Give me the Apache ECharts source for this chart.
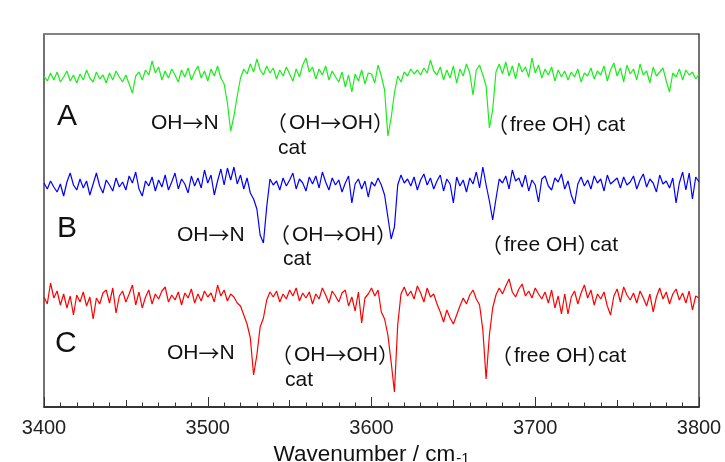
<!DOCTYPE html>
<html><head><meta charset="utf-8">
<script src="https://cdn.jsdelivr.net/npm/echarts@6/dist/echarts.min.js"></script>
<style>html,body{margin:0;padding:0;background:#fff}#c{width:725px;height:462px}</style>
</head><body><div id="c"></div><script>
// x grid of the spectra (cm-1)
const WN_START = 3400, WN_STEP = 2;
const tickLabels = [3400, 3500, 3600, 3700, 3800];
const seriesNames = ['A', 'B', 'C'];
// vertical offsets of the stacked spectra (arbitrary intensity units)
const offsetA = 329, offsetB = 220, offsetC = 107;

// Spectrum A (green), relative intensity, 3400..3800 step 2
const spectrumA = [
  2, -3, 5, -2, 6, -4, 1, 7, -3, 3,
  -5, 4, -2, 8, 0, -4, 6, -1, 3, -5,
  5, -2, 7, 1, -4, 3, -6, -15, 2, 6,
  -2, 8, 3, 17, 5, 11, -2, 7, 0, 9,
  3, -4, 8, 1, 10, -2, 6, 12, 0, 7,
  -3, 9, 2, 12, 0, -6, -25, -53, -38, -18,
  0, 9, 4, 14, 6, 19, 8, 3, 12, 5,
  10, -1, 8, 2, 11, 4, -3, 9, 1, 13,
  20, 6, 11, -1, 9, 3, 12, -2, 7, 1,
  -4, 6, -9, 3, -14, 4, -3, 8, -6, 5,
  4, -5, 13, 2, -12, -58, -40, -15, 2, -4,
  6, 2, 9, 4, 8, 3, 10, 5, 18, 7,
  3, 11, -2, 8, 0, 12, -5, 9, 2, 14,
  5, -17, 8, 13, 3, -8, -50, -32, 6, 14,
  4, 16, 2, 12, -1, 15, 6, 11, 1, 20,
  5, 13, 0, 9, 3, 11, -3, 8, 1, 7,
  -2, 6, 1, 9, -4, 5, 2, 10, -1, 7,
  3, 12, -3, 8, 15, 2, 10, -4, 13, 4,
  9, -2, 14, 3, 7, -5, 11, 2, 6, 10,
  -3, -14, 5, 1, 9, -2, 8, 3, 6, -1,
  4
];
// Spectrum B (blue)
const spectrumB = [
  4, -2, 6, 0, -5, 3, -9, 5, 14, 2,
  -3, 8, -1, 6, -8, 3, 14, 1, -6, 7,
  2, -4, 9, 0, 5, -3, 11, 4, 15, -2,
  -9, 6, 1, 10, -4, 7, 0, 12, -3, 5,
  14, -2, 8, 3, -6, 11, 1, 9, -1, 17,
  4, 12, -8, 6, 18, 2, 19, 7, 20, 3,
  12, -2, 9, -6, -12, -22, -48, -56, -20, 8,
  2, 6, -3, 9, 1, 7, 14, -2, 8, 4,
  -4, 10, 3, 11, -1, 15, 5, -3, 9, 2,
  7, -5, 4, 11, -16, 3, 8, -2, 6, -10,
  5, 1, 9, 2, -8, -30, -52, -40, 2, 12,
  4, 8, 1, 10, -3, 7, 13, 2, 9, -2,
  6, 12, -4, 8, 3, -16, 10, 1, 7, -5,
  9, 3, 15, -1, 20, 2, -14, -33, -12, 8,
  4, 11, -2, 17, 6, 9, 0, 12, -4, 7,
  2, -15, 8, 11, 1, -3, 9, 5, 13, -2,
  6, -8, -17, 3, 10, 1, 7, -2, 11, 4,
  8, -4, 12, 3, 6, 9, -1, 10, 2, 5,
  11, -2, 7, 13, 0, 8, 4, -5, 12, 3,
  6, -1, 9, -16, 4, 15, -3, 14, -12, 10,
  5
];
// Spectrum C (red)
const spectrumC = [
  3, -4, 17, 2, 9, -5, 6, -8, 4, -15,
  5, -2, 8, -6, 3, -19, 2, -4, 7, 10,
  -3, 12, -13, 4, 9, -2, 6, 15, -5, 8,
  -8, 3, 10, -4, 6, 1, 9, 13, -2, 5,
  0, 8, -5, 7, 2, 11, -3, 6, -1, 9,
  3, 7, -2, 15, 4, 10, -1, 6, 3, -3,
  -6, -15, -24, -38, -75, -55, -27, -18, 0, 8,
  3, 9, -2, 6, 1, 10, 4, 12, -1, 7,
  2, 8, -4, 6, 1, 12, 5, -3, 9, 4,
  -2, 7, 10, -6, 3, -11, 8, -23, 2, 6,
  12, 4, 10, -12, -19, -35, -62, -92, -25, 6,
  13, 4, 9, 1, 14, 7, -2, 12, 3, 6,
  -4, -12, -22, -10, -18, -24, -15, -6, 2, -4,
  5, 10, 1, -5, -30, -79, -35, -8, 5, 12,
  6, 14, 21, 8, 3, 11, 16, 4, 9, 2,
  12, 6, 1, 8, -3, 10, -8, 4, -14, 6,
  -14, 3, 9, -4, 7, 15, 2, 10, -5, 6,
  1, 8, -6, -15, 4, 11, -2, 13, 5, 0,
  7, -3, 9, 2, -6, 6, -12, 3, 12, 1,
  8, -4, 6, 11, 0, 7, -3, 9, -10, 4,
  2
];

const FONT = "'Liberation Sans', Arial, sans-serif";
const CJK = "'Noto Sans CJK JP', 'Liberation Sans', sans-serif";
function toPairs(vals, off) { return vals.map((v, i) => [WN_START + i * WN_STEP, v + off]); }

const chart = echarts.init(document.getElementById('c'), null, {renderer: 'canvas'});

// text with Latin parts in Liberation Sans and arrow / full-width brackets in the CJK font
function txt(s, x, y, size) {
  const rich = s.replace(/([^→（）]+)/g, '{n|$1}').replace(/→/g, '{j|→}')
    .replace(/（/g, '{o|（}').replace(/）/g, '{j|）}');
  return {type: 'text', x: x, y: y, silent: true,
    style: {text: rich, fill: '#111', textAlign: 'left', textVerticalAlign: 'middle', verticalAlign: 'middle',
      rich: {
        n: {fontSize: size, fontFamily: FONT, fill: '#111', color: '#111'},
        j: {fontSize: size, fontFamily: CJK, fill: '#111', color: '#111'},
        o: {fontSize: size, fontFamily: CJK, fill: '#111', color: '#111', padding: [0, 2, 0, 0]}
      }}};
}
const P = 11; // ink offset of full-width "（"
const annotations = [
  txt('A', 57, 117, 30), txt('B', 57, 229, 30), txt('C', 55, 344, 30),
  txt('OH→N', 151, 123, 21), txt('（OH→OH）', 277 - P, 123, 21), txt('cat', 278, 148, 21),
  txt('（free OH）', 498 - P, 125, 21), txt('cat', 597, 125, 21),
  txt('OH→N', 177, 235, 21), txt('（OH→OH）', 280 - P, 235, 21), txt('cat', 283, 259, 21),
  txt('（free OH）', 492 - P, 245, 21), txt('cat', 590, 245, 21),
  txt('OH→N', 167, 353, 21), txt('（OH→OH）', 282 - P, 355, 21), txt('cat', 285, 380, 21),
  txt('（free OH）', 502 - P, 356, 21), txt('cat', 598, 356, 21),
  // lighter top frame line as in the reference
  {type: 'line', silent: true, z: 100, shape: {x1: 44, y1: 34, x2: 698, y2: 34}, style: {stroke: '#8a8a8a', lineWidth: 1.5}}
];

const xMin = tickLabels[0], xMax = tickLabels[tickLabels.length - 1];
chart.setOption({
  animation: false,
  backgroundColor: '#fff',
  grid: {left: 44, right: 26, top: 34, bottom: 55, show: true, borderColor: '#444', borderWidth: 1.5,
    containLabel: false, outerBoundsMode: 'none'},
  xAxis: [{
    type: 'value', min: xMin, max: xMax, interval: 50,
    name: '{a|Wavenumber / cm}{b|-1}', nameLocation: 'middle', nameGap: 28,
    nameTextStyle: {rich: {
      a: {fontSize: 22.5, fontFamily: FONT, color: '#111'},
      b: {fontSize: 15, fontFamily: FONT, color: '#111', padding: [9, 0, 0, 1]}
    }},
    axisLine: {show: true, lineStyle: {color: '#222', width: 1.5}},
    axisTick: {show: true, inside: true, length: 7, lineStyle: {color: '#333', width: 1}},
    minorTick: {show: true, splitNumber: 5, length: 4.5, lineStyle: {color: '#333', width: 1}},
    axisLabel: {show: true, margin: 11, fontSize: 20, fontFamily: FONT, color: '#222',
      formatter: v => tickLabels.indexOf(v) >= 0 ? String(v) : ''},
    splitLine: {show: false}
  }, {
    type: 'value', min: xMin, max: xMax, interval: 100, position: 'bottom',
    axisLine: {show: false},
    axisTick: {show: true, inside: true, length: 10, lineStyle: {color: '#333', width: 1}},
    axisLabel: {show: false}, splitLine: {show: false}
  }],
  yAxis: {type: 'value', min: 0, max: 373, show: false, splitLine: {show: false}},
  series: [
    {name: seriesNames[0], type: 'line', data: toPairs(spectrumA, offsetA), showSymbol: false, symbol: 'none',
      lineStyle: {color: '#1aee1a', width: 1.2}, z: 3},
    {name: seriesNames[1], type: 'line', data: toPairs(spectrumB, offsetB), showSymbol: false, symbol: 'none',
      lineStyle: {color: '#0000ff', width: 1.2}, z: 3},
    {name: seriesNames[2], type: 'line', data: toPairs(spectrumC, offsetC), showSymbol: false, symbol: 'none',
      lineStyle: {color: '#ff0000', width: 1.2}, z: 3}
  ],
  graphic: annotations
});
</script></body></html>
